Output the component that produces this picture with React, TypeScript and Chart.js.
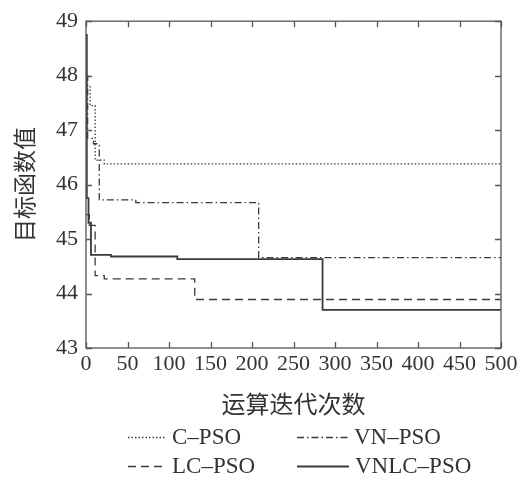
import React, { useEffect, useRef } from "react";
import { Chart, registerables } from "chart.js";

Chart.register(...registerables);

// ---- data ----
const xTickValues = [0, 50, 100, 150, 200, 250, 300, 350, 400, 450, 500];
const yTickValues = [43, 44, 45, 46, 47, 48, 49];

const seriesLabels = ["C\u2013PSO", "VN\u2013PSO", "LC\u2013PSO", "VNLC\u2013PSO"];

const cpsoIter = [0, 5, 11, 22, 500];
const cpsoVal = [47.8, 47.45, 46.45, 46.38, 46.37];

const vnIter = [0, 2, 9, 16, 60, 208, 500];
const vnVal = [48.0, 46.85, 46.75, 45.72, 45.67, 44.66, 44.66];

const lcIter = [0, 4, 11, 22, 131, 500];
const lcVal = [45.45, 45.25, 44.33, 44.27, 43.89, 43.89];

const vnlcIter = [0, 1, 3, 6, 30, 110, 285, 500];
const vnlcVal = [48.75, 45.75, 45.3, 44.71, 44.68, 44.63, 43.7, 43.7];

const LINE = "#3a3a3a";
const SERIF = "'Liberation Serif', 'Times New Roman', serif";
const CJK = "'Noto Sans CJK SC', sans-serif";

const toPts = (xs: number[], ys: number[]) => xs.map((x, i) => ({ x, y: ys[i] }));

const framePlugin = {
  id: "frameAndLegend",
  afterDraw(chart: any) {
    const ctx = chart.ctx;
    const { left, right, top, bottom } = chart.chartArea;
    const xs = chart.scales.x;
    const ys = chart.scales.y;
    ctx.save();
    ctx.strokeStyle = "#555";
    ctx.lineWidth = 1.3;
    ctx.setLineDash([]);
    ctx.strokeRect(left, top, right - left, bottom - top);
    const tl = 6;
    ctx.beginPath();
    xTickValues.forEach((v) => {
      const px = Math.round(xs.getPixelForValue(v)) + 0.5;
      ctx.moveTo(px, bottom);
      ctx.lineTo(px, bottom - tl);
      ctx.moveTo(px, top);
      ctx.lineTo(px, top + tl);
    });
    yTickValues.forEach((v) => {
      const py = Math.round(ys.getPixelForValue(v)) + 0.5;
      ctx.moveTo(left, py);
      ctx.lineTo(left + tl, py);
      ctx.moveTo(right, py);
      ctx.lineTo(right - tl, py);
    });
    ctx.stroke();

    // legend
    const items = [
      { ds: 0, x0: 128, x1: 166, tx: 172, y: 437 },
      { ds: 1, x0: 297, x1: 349, tx: 354, y: 437 },
      { ds: 2, x0: 128, x1: 167, tx: 172, y: 466 },
      { ds: 3, x0: 297, x1: 349, tx: 355, y: 466 },
    ];
    items.forEach((it) => {
      const d = chart.data.datasets[it.ds];
      ctx.strokeStyle = d.borderColor;
      ctx.lineWidth = d.borderWidth;
      ctx.setLineDash(d.borderDash || []);
      ctx.beginPath();
      ctx.moveTo(it.x0, it.y + 0.5);
      ctx.lineTo(it.x1, it.y + 0.5);
      ctx.stroke();
      ctx.setLineDash([]);
      ctx.fillStyle = "#333";
      ctx.font = `23px ${SERIF}`;
      ctx.textBaseline = "middle";
      ctx.textAlign = "left";
      ctx.fillText(d.label, it.tx, it.y + 1);
    });
    ctx.restore();
  },
};

export default function App() {
  const ref = useRef<HTMLCanvasElement | null>(null);
  useEffect(() => {
    if (!ref.current) return;
    const mk = (i: number, xs: number[], ys: number[], dash: number[], w: number) => ({
      label: seriesLabels[i],
      data: toPts(xs, ys),
      borderColor: LINE,
      borderWidth: w,
      borderDash: dash,
      stepped: "before",
      pointRadius: 0,
      fill: false,
    });
    const chart = new Chart(ref.current, {
      type: "line",
      data: {
        datasets: [
          mk(0, cpsoIter, cpsoVal, [1.5, 2], 1.3),
          mk(1, vnIter, vnVal, [7, 3, 1.5, 3], 1.3),
          mk(2, lcIter, lcVal, [8, 5], 1.3),
          mk(3, vnlcIter, vnlcVal, [], 1.8),
        ],
      } as any,
      options: {
        animation: false,
        responsive: false,
        layout: { padding: { left: 0, right: 21, top: 19, bottom: 0 } },
        plugins: { legend: { display: false }, tooltip: { enabled: false } },
        scales: {
          x: {
            type: "linear",
            min: 0,
            max: 500,
            afterBuildTicks: (s: any) => {
              s.ticks = xTickValues.map((v) => ({ value: v }));
            },
            afterFit: (s: any) => {
              s.height = 131;
            },
            ticks: {
              font: { family: SERIF, size: 22 },
              color: "#333",
              padding: 3,
              maxRotation: 0,
              autoSkip: false,
            },
            grid: { display: false, drawTicks: false },
            border: { display: false },
            title: {
              display: true,
              text: "运算迭代次数",
              font: { family: CJK, size: 24 },
              color: "#333",
              padding: { top: 0, bottom: 61 },
            },
          },
          y: {
            type: "linear",
            min: 43,
            max: 49,
            afterBuildTicks: (s: any) => {
              s.ticks = yTickValues.map((v) => ({ value: v }));
            },
            afterFit: (s: any) => {
              s.width = 86;
            },
            ticks: {
              font: { family: SERIF, size: 22 },
              color: "#333",
              padding: 8,
            },
            grid: { display: false, drawTicks: false },
            border: { display: false },
            title: {
              display: true,
              text: "目标函数值",
              font: { family: CJK, size: 23 },
              color: "#333",
              padding: { top: 10, bottom: 0 },
            },
          },
        },
      },
      plugins: [framePlugin],
    } as any);
    return () => chart.destroy();
  }, []);
  return (
    <div style={{ position: "fixed", left: 0, top: 0, width: 522, height: 479, background: "#fff" }}>
      <canvas ref={ref} width={522} height={479} style={{ display: "block" }} />
    </div>
  );
}
